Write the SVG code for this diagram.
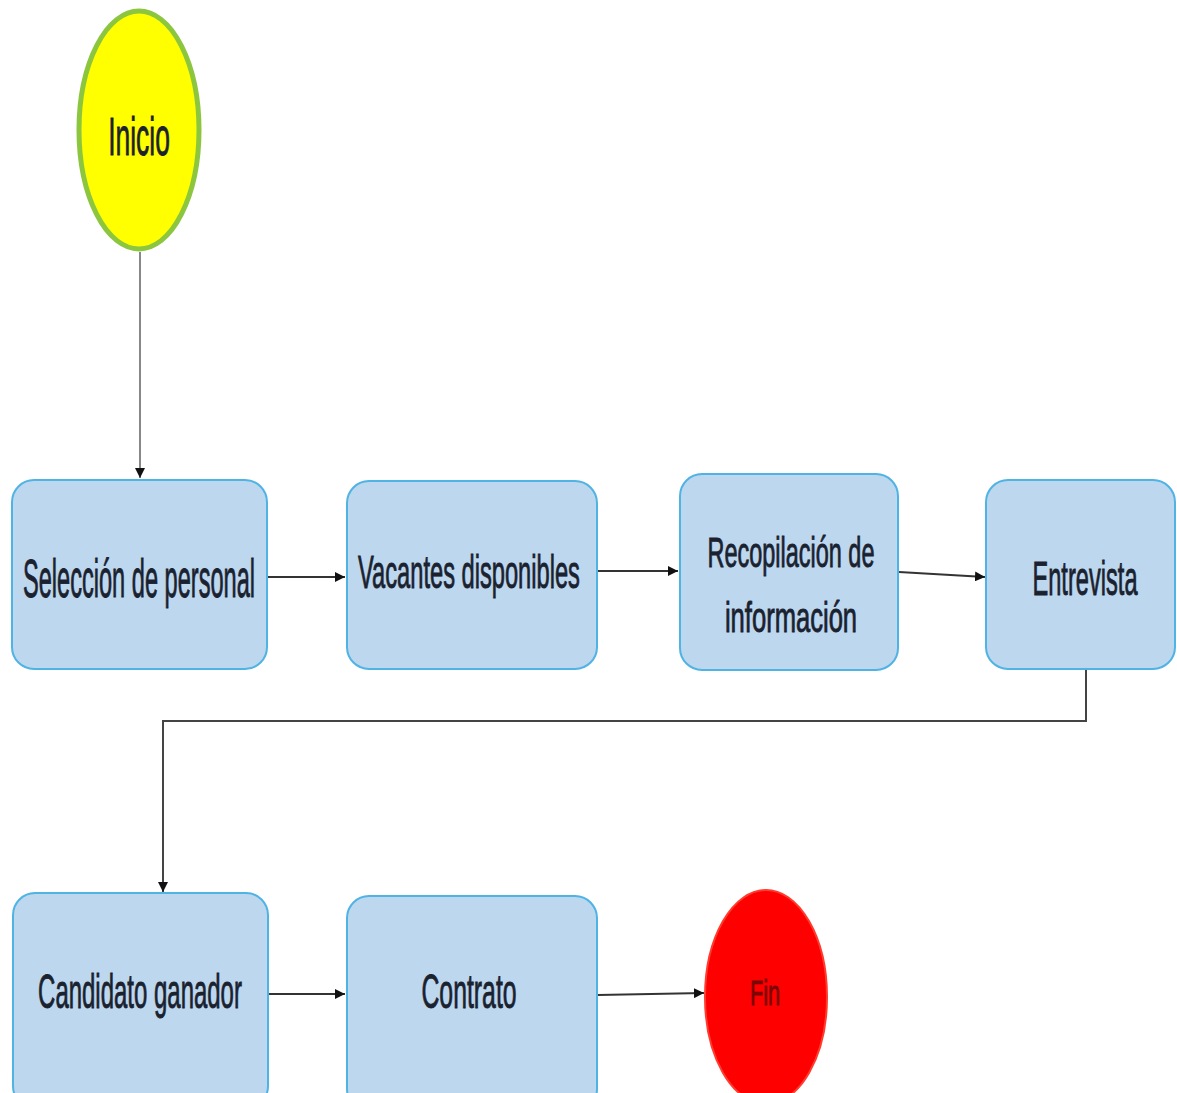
<svg xmlns="http://www.w3.org/2000/svg" width="1177" height="1093" viewBox="0 0 1177 1093">
  <defs>
    <marker id="arrow" viewBox="0 0 10 10" refX="10" refY="5" markerWidth="10" markerHeight="10" markerUnits="userSpaceOnUse" orient="auto">
      <path d="M0,0 L10,5 L0,10 Z" fill="#111"/>
    </marker>
    <style>
      .box { fill: #bdd7ee; stroke: #4fb3e3; stroke-width: 2; }
      .lbl { font-family: "Liberation Sans", Arial, sans-serif; fill: #1a2230; stroke: #1a2230; stroke-width: 0.9; text-anchor: middle; }
      .edge { fill: none; stroke: #333; stroke-width: 2; }
      .edge-gray { fill: none; stroke: #888; stroke-width: 2; }
    </style>
  </defs>
  <rect width="1177" height="1093" fill="#ffffff"/>

  <g id="connectors">
    <line class="edge-gray" x1="140" y1="252" x2="140" y2="478" marker-end="url(#arrow)"/>
    <line class="edge" x1="268" y1="577" x2="345" y2="577" marker-end="url(#arrow)"/>
    <line class="edge" x1="598" y1="571" x2="678" y2="571" marker-end="url(#arrow)"/>
    <line class="edge" x1="899" y1="572" x2="985" y2="577" marker-end="url(#arrow)"/>
    <polyline class="edge" points="1086,670 1086,721 163,721 163,892" marker-end="url(#arrow)" style="stroke:#444"/>
    <line class="edge" x1="268" y1="994" x2="345" y2="994" marker-end="url(#arrow)"/>
    <line class="edge" x1="598" y1="995" x2="704" y2="993" marker-end="url(#arrow)"/>
  </g>

  <g id="inicio">
    <ellipse cx="139" cy="130" rx="60" ry="119" fill="#ffff00" stroke="#8cc63f" stroke-width="5"/>
    <text class="lbl" transform="translate(139,155) scale(0.49,1)" font-size="54" textLength="126" lengthAdjust="spacingAndGlyphs">Inicio</text>
  </g>

  <g id="seleccion">
    <rect class="box" x="12" y="480" width="255" height="189" rx="22"/>
    <text class="lbl" transform="translate(139,597) scale(0.437,1)" font-size="54" textLength="531" lengthAdjust="spacingAndGlyphs">Selección de personal</text>
  </g>

  <g id="vacantes">
    <rect class="box" x="347" y="481" width="250" height="188" rx="22"/>
    <text class="lbl" transform="translate(469,588) scale(0.51,1)" font-size="46" textLength="435" lengthAdjust="spacingAndGlyphs">Vacantes disponibles</text>
  </g>

  <g id="recopilacion">
    <rect class="box" x="680" y="474" width="218" height="196" rx="22"/>
    <text class="lbl" transform="translate(791,567) scale(0.56,1)" font-size="42" textLength="298" lengthAdjust="spacingAndGlyphs">Recopilación de</text>
    <text class="lbl" transform="translate(791,632) scale(0.56,1)" font-size="42" textLength="236" lengthAdjust="spacingAndGlyphs">información</text>
  </g>

  <g id="entrevista">
    <rect class="box" x="986" y="480" width="189" height="189" rx="22"/>
    <text class="lbl" transform="translate(1085,595) scale(0.482,1)" font-size="49" textLength="218" lengthAdjust="spacingAndGlyphs">Entrevista</text>
  </g>

  <g id="candidato">
    <rect class="box" x="13" y="893" width="255" height="215" rx="22"/>
    <text class="lbl" transform="translate(140,1008) scale(0.49,1)" font-size="49" textLength="416" lengthAdjust="spacingAndGlyphs">Candidato ganador</text>
  </g>

  <g id="contrato">
    <rect class="box" x="347" y="896" width="250" height="215" rx="22"/>
    <text class="lbl" transform="translate(469,1008) scale(0.506,1)" font-size="49" textLength="188" lengthAdjust="spacingAndGlyphs">Contrato</text>
  </g>

  <g id="fin">
    <ellipse cx="766" cy="997" rx="61" ry="107" fill="#ff0000" stroke="#ff3b2f" stroke-width="2"/>
    <text class="lbl" transform="translate(765,1005) scale(0.617,1)" font-size="35" textLength="49" lengthAdjust="spacingAndGlyphs" style="fill:#7a0606;stroke:#7a0606">Fin</text>
  </g>
</svg>
